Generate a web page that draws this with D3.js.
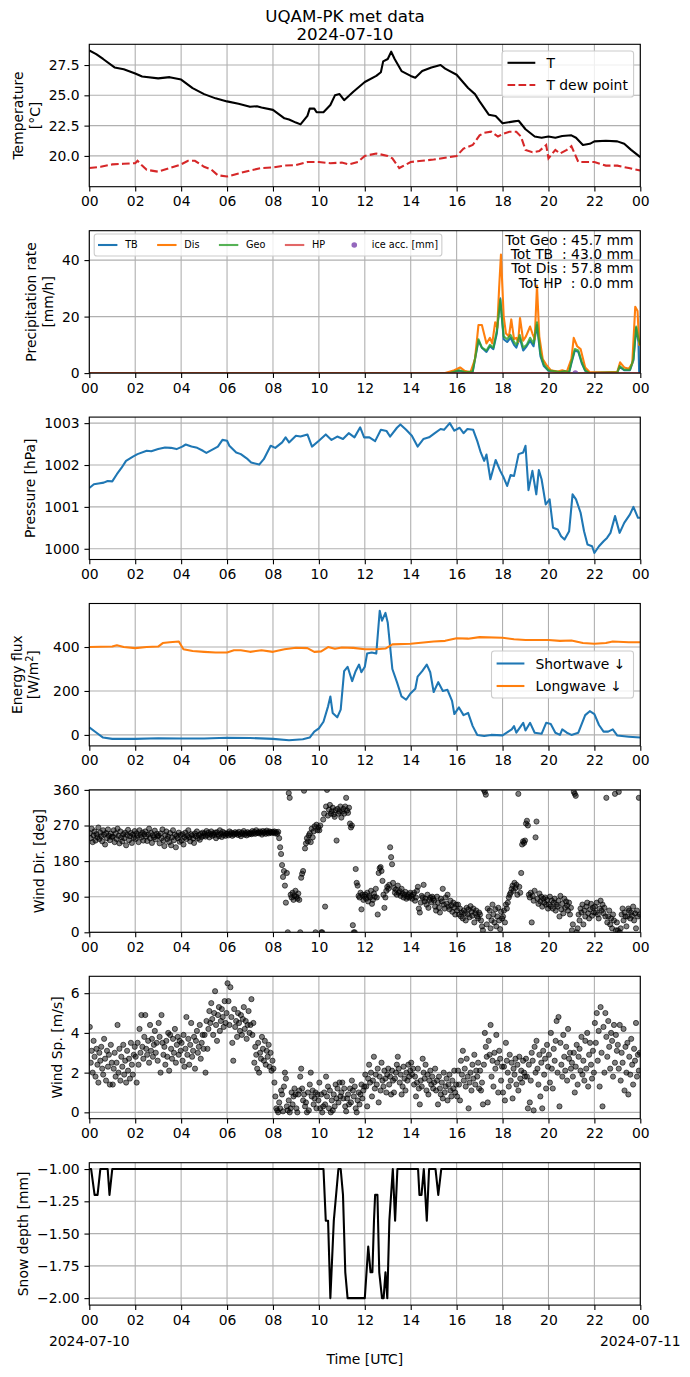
<!DOCTYPE html>
<html>
<head>
<meta charset="utf-8">
<script src="https://cdn.jsdelivr.net/npm/d3@7"></script>
<style>
  body { margin: 0; background: #fff; }
  svg { display: block; font-family: "DejaVu Sans", sans-serif; }
</style>
</head>
<body>
<svg id="fig"></svg>
<script>
// ---- data ----
const xTicks = [0, 2, 4, 6, 8, 10, 12, 14, 16, 18, 20, 22, 24];
const xTickLabels = ["00", "02", "04", "06", "08", "10", "12", "14", "16", "18", "20", "22", "00"];

// [hour, degC]
const tempAir = [[0,28.7],[0.3,28.4],[0.6,28.0],[1.1,27.3],[1.5,27.15],[2,26.8],[2.3,26.55],[3,26.4],[3.5,26.5],[4,26.3],
  [4.5,25.6],[5,25.1],[5.5,24.75],[6,24.5],[6.5,24.3],[7,24.05],[7.3,24.1],[7.5,24.0],[8,23.8],[8.5,23.1],[8.7,23.0],
  [9,22.75],[9.2,22.6],[9.5,23.3],[9.6,23.9],[9.8,23.9],[9.9,23.6],[10.2,23.6],[10.5,24.2],[10.7,25.0],[10.9,25.1],
  [11.1,24.6],[11.5,25.3],[12,26.1],[12.5,26.6],[12.7,26.9],[12.8,27.8],[13.0,28.0],[13.15,28.6],[13.3,28.0],[13.6,27.0],
  [14,26.6],[14.2,26.45],[14.5,27.0],[14.9,27.3],[15.1,27.4],[15.3,27.5],[15.5,27.2],[16,26.7],[16.5,25.6],[16.8,25.1],
  [17,24.5],[17.4,23.4],[17.7,23.3],[18,22.7],[18.5,22.85],[18.7,22.9],[19,22.2],[19.4,21.6],[19.7,21.5],[20,21.6],
  [20.3,21.5],[20.6,21.65],[21,21.7],[21.2,21.5],[21.5,20.9],[21.8,21.0],[22,21.2],[22.5,21.25],[23,21.2],[23.3,21.0],
  [23.6,20.5],[24,19.9]];
const tempDew = [[0,19.0],[0.5,19.1],[1,19.3],[1.5,19.35],[2,19.4],[2.1,19.6],[2.3,19.2],[2.5,18.85],[3,18.7],[3.5,19.0],
  [4,19.3],[4.3,19.6],[4.6,19.6],[5,19.1],[5.3,18.9],[5.6,18.4],[6,18.3],[6.5,18.55],[7,18.8],[7.5,19.0],[8,19.05],
  [8.5,19.2],[9,19.25],[9.5,19.5],[10,19.5],[10.5,19.4],[11,19.45],[11.3,19.3],[11.7,19.5],[12,20.0],[12.5,20.2],
  [13,20.0],[13.2,19.8],[13.5,19.0],[14,19.5],[14.5,19.6],[15,19.7],[15.5,19.85],[16,20.0],[16.3,20.6],[16.7,20.9],
  [17,21.7],[17.2,21.9],[17.5,22.0],[17.8,21.6],[18,21.8],[18.3,22.0],[18.6,22.0],[18.8,21.6],[19,20.5],[19.3,20.3],
  [19.6,20.4],[19.9,20.9],[20,19.8],[20.3,20.5],[20.5,20.2],[20.8,20.5],[21,20.8],[21.3,19.5],[21.6,19.5],[22,19.5],
  [22.5,19.2],[23,19.2],[23.5,19.0],[24,18.8]];

// [hour, mm/h]
const precipTB = [[0,0],[15.7,0],[16.1,0.8],[16.4,0.2],[16.7,0.5],[16.95,11.5],[17.1,9],[17.3,7.5],[17.45,9.5],[17.6,8.5],
  [17.75,14],[17.9,26.5],[18.05,12],[18.2,11],[18.35,12.5],[18.5,10],[18.6,9],[18.75,12.5],[18.9,8],[19.05,9.5],
  [19.2,11.5],[19.35,9.5],[19.5,17],[19.65,6],[19.8,2.5],[20.0,0.8],[20.5,0.3],[20.7,0.6],[20.9,0.3],[21.0,3.5],
  [21.15,8],[21.3,7.5],[21.45,3.5],[21.6,0.8],[21.8,0],[23.0,0.3],[23.1,2.2],[23.3,1],[23.55,1],[23.7,4.5],
  [23.82,16],[23.92,11],[23.95,0],[24,0]];
const precipDis = [[0,0],[15.5,0],[15.9,1.0],[16.15,2.0],[16.35,0.8],[16.6,0.3],[16.8,5],[16.95,17],[17.1,17],[17.3,10.5],
  [17.45,12.5],[17.55,10.5],[17.68,18],[17.77,16],[17.85,30],[17.93,42],[18.05,20],[18.15,14],[18.28,13],[18.38,19],
  [18.5,12],[18.6,12.5],[18.68,11],[18.76,19.5],[18.9,11.5],[19.02,13],[19.2,16.5],[19.3,14],[19.4,12],[19.5,31],
  [19.6,13],[19.75,5],[19.9,3],[20.1,1],[20.4,0.6],[20.6,1.0],[20.8,0.5],[21.0,5],[21.1,12.5],[21.25,9.5],[21.4,8.5],
  [21.6,2],[21.8,0.3],[22.5,0.3],[23.0,0.5],[23.12,3.8],[23.3,2],[23.5,1.5],[23.65,3.5],[23.78,23.5],[23.88,22],
  [23.95,10],[24,10]];
const precipGeo = [[0,0],[15.7,0],[16.1,1.0],[16.4,0.3],[16.7,0.6],[16.95,12],[17.1,9],[17.3,8],[17.45,10],[17.6,9],
  [17.75,15],[17.9,26],[18.05,13],[18.2,12],[18.35,13.5],[18.5,11],[18.6,10],[18.75,13.5],[18.9,9],[19.05,10],
  [19.2,12.5],[19.35,10.5],[19.5,18],[19.65,7],[19.8,3],[20.0,1],[20.5,0.4],[20.7,0.7],[20.9,0.4],[21.0,4],
  [21.15,8.5],[21.3,8],[21.45,4],[21.6,1],[21.8,0],[23.0,0.3],[23.1,2.5],[23.3,1.2],[23.55,1.2],[23.7,5],
  [23.82,16.5],[23.92,12],[24,10]];
const precipHP = [[0,0],[24,0]];
const iceAcc = [[21.17,0]];
const precipTotals = ["Tot Geo : 45.7 mm", "Tot TB  : 43.0 mm", "Tot Dis : 57.8 mm", "Tot HP  : 0.0 mm"];

// [hour, hPa]
const pressure = [[0,1001.45],[0.2,1001.54],[0.4,1001.56],[0.63,1001.58],[0.8,1001.62],[1.0,1001.61],[1.2,1001.78],
  [1.4,1001.93],[1.6,1002.1],[1.9,1002.2],[2.1,1002.26],[2.5,1002.34],[2.7,1002.33],[3.0,1002.38],[3.3,1002.42],
  [3.55,1002.41],[3.8,1002.38],[4.05,1002.44],[4.2,1002.49],[4.45,1002.44],[4.7,1002.41],[4.95,1002.34],[5.1,1002.29],
  [5.4,1002.38],[5.6,1002.44],[5.8,1002.6],[6.0,1002.58],[6.1,1002.46],[6.4,1002.3],[6.6,1002.26],[6.9,1002.14],
  [7.05,1002.06],[7.4,1002.01],[7.6,1002.14],[7.9,1002.46],[8.1,1002.41],[8.4,1002.54],[8.55,1002.66],[8.7,1002.54],
  [9.0,1002.7],[9.2,1002.68],[9.5,1002.73],[9.7,1002.44],[10.0,1002.58],[10.3,1002.73],[10.55,1002.6],[10.8,1002.68],
  [11.05,1002.62],[11.3,1002.76],[11.55,1002.66],[11.8,1002.9],[11.97,1002.66],[12.2,1002.66],[12.45,1002.57],
  [12.7,1002.84],[12.95,1002.81],[13.1,1002.68],[13.4,1002.89],[13.55,1002.97],[13.8,1002.84],[14.05,1002.7],
  [14.3,1002.44],[14.55,1002.62],[14.8,1002.66],[15.05,1002.76],[15.3,1002.86],[15.45,1002.84],[15.7,1003.0],
  [15.9,1002.82],[16.13,1002.89],[16.3,1002.76],[16.47,1002.86],[16.72,1002.84],[16.9,1002.57],[17.05,1002.3],
  [17.2,1002.1],[17.3,1002.25],[17.47,1001.66],[17.7,1002.12],[17.9,1001.86],[18.05,1001.7],[18.2,1001.5],
  [18.35,1001.76],[18.5,1001.74],[18.7,1002.26],[18.9,1002.3],[19.0,1002.46],[19.13,1001.4],[19.3,1001.86],
  [19.47,1001.3],[19.58,1001.88],[19.7,1001.66],[19.88,1001.06],[20.05,1001.18],[20.2,1000.5],[20.4,1000.46],
  [20.55,1000.3],[20.7,1000.22],[20.9,1000.42],[21.05,1001.3],[21.2,1001.18],[21.4,1000.86],[21.55,1000.42],
  [21.7,1000.1],[21.9,1000.06],[22.0,999.9],[22.2,1000.06],[22.4,1000.18],[22.55,1000.26],[22.7,1000.38],
  [22.9,1000.78],[23.1,1000.38],[23.3,1000.62],[23.55,1000.82],[23.7,1001.0],[23.9,1000.74],[24,1000.74]];

// [hour, W/m2]
const shortwave = [[0,34],[0.3,11],[0.6,-12],[1,-18],[2,-18],[3,-15],[4,-16],[5,-16],[6,-13],[7,-14],[8,-18],[8.7,-24],
  [9.3,-20],[9.6,-12],[9.8,15],[10.0,30],[10.2,60],[10.4,130],[10.5,175],[10.6,100],[10.8,80],[10.95,115],[11.1,290],
  [11.25,310],[11.45,245],[11.6,290],[11.75,320],[11.85,285],[12.0,310],[12.1,370],[12.3,375],[12.5,370],[12.65,565],
  [12.75,520],[12.9,555],[13.0,510],[13.2,300],[13.4,240],[13.6,175],[13.8,160],[14.0,190],[14.2,210],[14.3,265],
  [14.5,290],[14.7,320],[14.85,285],[15.0,195],[15.2,240],[15.4,200],[15.6,205],[15.8,155],[15.9,95],[16.1,125],
  [16.3,90],[16.5,100],[16.7,40],[16.9,0],[17.2,-5],[17.5,0],[18.0,-2],[18.4,25],[18.5,40],[18.6,10],[18.9,55],
  [19.0,20],[19.2,55],[19.4,10],[19.7,5],[19.9,55],[20.1,50],[20.3,10],[20.5,0],[20.6,25],[20.8,10],[21.0,0],
  [21.3,10],[21.6,90],[21.8,108],[22.0,95],[22.2,45],[22.4,15],[22.6,15],[22.8,25],[23.0,-3],[23.5,-8],[24.0,-12]];
const longwave = [[0,400],[1,402],[1.2,408],[1.5,400],[2,395],[2.5,400],[3,402],[3.2,418],[3.5,422],[3.9,425],[4.1,390],
  [4.5,382],[5,378],[5.5,375],[6,375],[6.3,385],[6.6,385],[7,378],[7.5,385],[8,378],[8.5,390],[9,397],[9.5,395],
  [9.8,378],[10.1,380],[10.4,400],[10.7,392],[11,398],[11.5,396],[12,390],[12.5,390],[12.9,393],[13.2,412],[14,415],
  [15,425],[15.5,428],[16,440],[16.5,438],[17,445],[18,442],[18.5,435],[19,432],[20,432],[20.5,428],[21,430],
  [21.5,418],[22,415],[22.5,418],[22.8,425],[23.5,422],[24,422]];

// wind direction [deg], 24 samples per hour (one row per hour)
const windDir = [
  [250,238,262,228,245,255,232,248,240,265,236,252,243,230,258,247,222,251,238,260,244,233,249,241],
  [242,258,228,250,236,262,244,225,255,240,230,248,238,252,220,246,259,233,243,251,226,247,239,256],
  [236,250,244,228,258,246,240,252,232,248,255,242,231,247,262,238,251,226,245,240,257,235,249,243],
  [245,225,250,238,260,232,218,246,255,236,242,228,251,220,240,258,233,247,215,244,238,252,229,246],
  [232,248,222,240,252,236,244,258,240,230,248,245,237,226,250,243,255,238,246,234,249,241,252,244],
  [250,242,256,246,252,240,248,255,244,250,246,252,238,253,247,243,258,249,241,254,246,251,244,249],
  [250,245,255,248,252,244,250,247,253,249,251,246,254,248,243,252,249,256,247,251,245,253,250,248],
  [252,248,256,250,254,249,258,251,253,250,255,252,247,256,251,254,249,257,252,250,255,253,251,254],
  [252,255,250,253,249,254,238,215,198,170,140,155,118,75,150,0,352,340,95,88,100,82,92,105],
  [90,85,98,82,0,138,148,155,358,212,225,238,230,245,250,228,262,240,255,268,0,272,258,265],
  [258,270,0,0,285,300,65,318,360,295,310,322,300,306,315,298,292,309,232,312,300,305,318,290],
  [305,312,300,318,340,308,302,315,275,265,270,18,0,0,160,125,118,92,88,100,58,95,82,90],
  [95,85,100,78,92,88,105,72,82,98,90,110,88,45,150,162,165,155,130,95,62,88,105,115],
  [110,120,215,190,172,125,112,100,108,95,118,100,104,92,110,98,88,95,102,85,90,96,88,100],
  [92,85,95,100,80,88,105,115,60,50,75,92,88,120,78,85,70,95,62,82,88,76,90,85],
  [80,65,55,90,75,62,50,85,78,110,70,60,88,72,95,65,58,80,68,52,75,62,45,70],
  [55,70,45,60,40,50,35,55,48,30,62,45,58,38,66,52,42,60,25,48,55,40,35,50],
  [45,30,15,5,360,355,348,20,60,40,55,10,30,70,45,25,58,15,40,62,30,8,52,35],
  [40,55,25,70,60,75,88,95,100,110,118,105,125,112,120,95,350,115,100,150,222,230,226,232],
  [275,282,270,95,88,100,25,92,80,105,240,280,85,72,98,78,90,65,85,75,88,70,82,60],
  [70,90,65,80,60,75,85,55,70,65,80,40,92,58,72,48,85,62,78,68,55,75,45,62],
  [5,20,355,350,345,0,10,45,30,60,50,70,20,55,40,65,75,48,35,58,72,42,62,50],
  [65,50,75,45,35,60,80,55,70,48,62,40,340,25,40,55,20,35,10,45,30,350,5,25],
  [5,355,0,10,45,60,30,50,40,15,40,60,55,35,50,42,65,30,48,10,55,40,340,45]
];

// wind speed [m/s], 24 samples per hour
const windSpeed = [
  [4.3,2.5,3.1,2.0,3.6,2.8,1.8,3.2,2.4,1.5,3.0,2.6,3.3,2.2,1.9,3.7,2.7,1.6,3.1,2.3,2.9,1.4,3.4,2.5],
  [1.4,2.2,3.0,1.8,2.5,4.4,2.0,3.2,1.6,2.8,2.3,3.4,1.9,2.6,1.5,3.1,2.1,2.7,1.7,3.5,2.4,1.9,2.9,3.3],
  [2.8,1.5,3.5,2.4,4.2,3.0,4.9,3.3,2.7,3.8,4.9,3.2,2.9,3.6,2.5,4.4,3.1,3.7,2.8,3.4,4.1,3.0,3.5,2.6],
  [4.5,3.8,2.0,4.9,3.5,2.9,3.3,2.4,3.6,2.8,4.0,2.1,3.9,3.2,2.7,3.7,3.0,4.2,2.5,3.4,3.8,2.9,3.6,3.1],
  [3.5,2.6,3.9,2.3,3.2,4.8,2.9,3.7,2.4,3.4,4.5,2.8,3.1,3.8,2.2,3.6,4.1,3.0,3.3,4.4,2.7,3.5,3.9,3.2],
  [3.9,2.0,4.6,3.2,4.2,5.1,4.5,5.5,4.7,3.9,5.0,6.1,4.4,3.6,4.9,5.3,4.1,4.6,5.2,4.8,4.3,5.6,4.5,5.0],
  [6.5,5.6,4.4,6.3,4.8,3.5,2.6,5.2,4.3,4.6,3.8,5.0,4.5,4.1,4.9,3.9,4.7,5.3,4.2,4.6,3.7,4.4,5.1,4.0],
  [4.4,5.7,3.9,4.5,2.5,3.3,2.9,2.2,3.5,2.0,3.0,2.7,3.8,3.2,2.6,3.6,2.4,3.1,2.8,3.4,2.3,3.0,2.1,2.6],
  [2.2,1.5,0.8,0.2,0.1,0.0,0.5,0.2,1.1,0.9,0.05,1.3,2.0,1.7,0.3,0.1,0.6,0.0,0.2,1.0,0.4,0.8,1.2,0.9],
  [0.2,0.0,0.9,1.1,1.8,2.2,1.2,0.6,0.9,0.3,0.5,0.0,1.0,0.1,1.4,2.0,0.8,1.1,0.4,0.7,1.0,0.2,0.9,0.6],
  [1.5,0.2,0.9,0.0,0.3,1.0,0.4,1.8,0.8,1.3,0.2,1.1,0.0,0.6,0.1,0.9,0.3,1.4,0.7,1.2,0.5,1.5,0.8,1.0],
  [1.5,0.7,1.2,0.3,0.05,0.7,0.9,0.4,1.2,0.5,1.6,1.1,0.8,1.3,0.2,0.0,0.6,1.0,0.4,0.9,1.4,0.7,1.1,1.3],
  [1.9,1.3,0.3,1.7,2.4,1.5,2.0,0.8,1.6,2.8,1.2,1.9,1.4,2.2,0.5,1.8,1.1,2.5,1.6,1.3,2.1,1.7,1.0,1.9],
  [2.2,1.4,1.8,0.9,2.1,1.6,1.0,1.7,2.0,2.4,2.8,2.2,1.5,1.9,0.9,1.3,2.3,1.7,1.1,2.0,1.6,2.4,1.8,2.1],
  [2.5,1.9,2.2,1.4,1.8,0.8,1.5,2.2,1.2,0.4,1.6,1.3,2.7,2.0,1.7,2.4,1.1,1.9,0.9,1.6,2.1,1.4,1.8,1.2],
  [1.5,2.2,1.1,1.6,0.4,1.8,1.2,0.9,1.5,0.7,2.0,1.0,1.3,1.7,0.6,1.4,1.9,1.1,0.8,1.6,1.2,2.1,1.0,1.4],
  [0.8,2.1,1.4,0.6,2.6,1.9,3.1,1.6,2.2,1.3,2.7,1.8,0.2,1.5,2.0,1.1,2.4,1.7,2.9,1.4,2.1,1.8,2.5,1.2],
  [2.1,1.1,1.5,0.4,2.4,4.0,3.3,2.8,0.5,3.6,2.9,4.4,1.8,2.6,1.3,3.0,2.2,3.9,2.5,1.0,3.1,2.7,1.6,2.3],
  [1.0,2.3,0.6,3.5,2.6,2.0,1.3,2.9,1.6,2.5,0.7,2.2,1.9,2.7,1.4,2.4,1.1,2.8,1.7,2.1,1.5,2.6,2.0,1.8],
  [2.7,1.8,0.2,2.4,0.5,1.6,3.0,2.6,0.1,3.3,2.0,3.6,2.2,1.4,2.9,0.8,2.5,0.2,3.1,1.9,2.7,1.2,3.4,2.3],
  [2.9,1.5,4.0,2.2,1.2,3.2,2.6,3.6,4.6,2.0,4.8,0.3,3.5,2.4,1.8,3.9,2.8,2.1,3.3,1.6,4.2,2.7,3.0,2.2],
  [2.5,1.8,3.0,1.0,2.3,3.4,1.4,2.8,3.2,2.1,3.8,1.9,2.6,1.6,3.6,2.2,4.0,1.3,2.9,3.5,2.4,1.7,3.1,2.0],
  [4.5,3.5,5.0,2.6,4.1,1.3,5.3,3.0,0.3,4.3,2.0,5.0,3.8,2.8,4.6,3.3,2.2,4.0,3.6,1.8,4.4,2.5,3.9,3.1],
  [3.4,2.2,4.4,1.6,3.0,2.5,4.2,1.1,3.3,2.0,3.5,0.9,2.8,1.9,3.7,2.4,1.4,3.2,2.6,4.5,1.8,2.9,2.1,3.0]
];

// [hour, mm]
const snowDepth = [[0,-1.0],[0.08,-1.0],[0.23,-1.2],[0.36,-1.2],[0.48,-1.0],[0.8,-1.0],[0.88,-1.2],[1.0,-1.0],
  [10.2,-1.0],[10.3,-1.4],[10.4,-1.4],[10.5,-2.0],[10.65,-1.4],[10.85,-1.0],[10.95,-1.0],[11.05,-1.2],[11.15,-1.8],
  [11.25,-2.0],[12.0,-2.0],[12.15,-1.6],[12.25,-1.8],[12.33,-1.8],[12.4,-1.4],[12.45,-1.2],[12.55,-1.2],[12.63,-1.8],
  [12.75,-2.0],[12.82,-2.0],[12.9,-1.8],[12.98,-2.0],[13.07,-1.4],[13.22,-1.0],[13.32,-1.4],[13.42,-1.0],[14.32,-1.0],
  [14.38,-1.2],[14.47,-1.2],[14.57,-1.0],[14.7,-1.4],[14.8,-1.0],[15.08,-1.0],[15.2,-1.2],[15.33,-1.0],[24,-1.0]];

// ---- layout ----
const W = 690, H = 1377;
const X0 = 89.3, X1 = 640.3;
const PANEL_TOP = 44.3, PANEL_STEP = 186.4, PH = 142.4;
const FS = 13.9, TICK = 4.86, PAD = 4.86, LPAD = 5.56;
const GRID = "#b0b0b0";

const svg = d3.select("#fig").attr("width", W).attr("height", H);
svg.append("rect").attr("width", W).attr("height", H).attr("fill", "#fff");

const x = d3.scaleLinear().domain([0, 24]).range([X0, X1]);

const line = y => d3.line().x(d => x(d[0])).y(d => y(d[1]));

const makePanel = (i, domain, ticks, fmt, label, labelShift = 0) => {
    const top = PANEL_TOP + i * PANEL_STEP;
    const y = d3.scaleLinear().domain(domain).range([top + PH, top]);
    const id = "clip" + i;
    svg.append("clipPath").attr("id", id)
        .append("rect").attr("x", X0).attr("y", top).attr("width", X1 - X0).attr("height", PH);

    const grid = svg.append("g").attr("stroke", GRID).attr("stroke-width", 1.1);
    grid.selectAll(".vx").data(xTicks).join("line")
        .attr("x1", d => x(d)).attr("x2", d => x(d)).attr("y1", top).attr("y2", top + PH);
    grid.selectAll(".hy").data(ticks).join("line")
        .attr("x1", X0).attr("x2", X1).attr("y1", d => y(d)).attr("y2", d => y(d));

    const plot = svg.append("g").attr("clip-path", `url(#${id})`);
    const frame = svg.append("g");

    const xa = frame.append("g")
        .attr("transform", `translate(0,${top + PH})`)
        .call(d3.axisBottom(x).tickValues(xTicks).tickFormat((d, k) => xTickLabels[k])
            .tickSize(TICK).tickPadding(PAD).tickSizeOuter(0));
    xa.attr("font-size", FS).attr("font-family", "DejaVu Sans");
    xa.select(".domain").remove();
    xa.selectAll("line").attr("stroke-width", 1.1);

    const ya = frame.append("g")
        .attr("transform", `translate(${X0},0)`)
        .call(d3.axisLeft(y).tickValues(ticks).tickFormat(fmt)
            .tickSize(TICK).tickPadding(PAD).tickSizeOuter(0));
    ya.attr("font-size", FS).attr("font-family", "DejaVu Sans");
    ya.select(".domain").remove();
    ya.selectAll("line").attr("stroke-width", 1.1);

    frame.append("rect")
        .attr("x", X0).attr("y", top).attr("width", X1 - X0).attr("height", PH)
        .attr("fill", "none").attr("stroke", "#000").attr("stroke-width", 1.1);

    let maxW = 0;
    ya.selectAll("text").each(function () { maxW = Math.max(maxW, this.getComputedTextLength()); });
    const base = X0 - TICK - PAD - maxW - LPAD - 0.236 * FS + labelShift;
    label.forEach((txt, k) => {
        const bx = base - (label.length - 1 - k) * 1.2 * FS;
        const t = frame.append("text")
            .attr("transform", `translate(${bx},${top + PH / 2}) rotate(-90)`)
            .attr("text-anchor", "middle").attr("font-size", FS);
        if (txt.includes("^2")) {
            const [a, b] = txt.split("^2");
            t.append("tspan").text(a);
            t.append("tspan").attr("font-size", FS * 0.7).attr("dy", -5.5).text("2");
            t.append("tspan").attr("dy", 5.5).text(b);
        } else {
            t.text(txt);
        }
    });
    return { plot, frame, y, top };
};

const legend = (parent, box, fontSize, rows) => {
    parent.append("rect")
        .attr("x", box.x).attr("y", box.y).attr("width", box.w).attr("height", box.h)
        .attr("rx", 2.8).attr("fill", "#fff").attr("fill-opacity", 0.8)
        .attr("stroke", "#cccccc").attr("stroke-width", 1.1);
    rows.forEach(r => {
        if (r.dot) {
            parent.append("circle").attr("cx", r.hx + r.hl / 2).attr("cy", r.y).attr("r", 2.8)
                .attr("fill", r.color).attr("opacity", r.opacity || 1);
        } else {
            parent.append("line").attr("x1", r.hx).attr("x2", r.hx + r.hl).attr("y1", r.y).attr("y2", r.y)
                .attr("stroke", r.color).attr("stroke-width", 2.08)
                .attr("stroke-dasharray", r.dash || null).attr("opacity", r.opacity || 1);
        }
        parent.append("text").attr("x", r.tx).attr("y", r.y).attr("dy", "0.36em")
            .attr("font-size", fontSize).text(r.label);
    });
};

// title
svg.append("text").attr("x", W / 2).attr("y", 16).attr("dy", "0.36em").attr("text-anchor", "middle")
    .attr("font-size", 16.7).text("UQAM-PK met data");
svg.append("text").attr("x", W / 2).attr("y", 33.5).attr("dy", "0.36em").attr("text-anchor", "middle")
    .attr("font-size", 16.7).text("2024-07-10");

// 1: temperature
const p1 = makePanel(0, [17.46, 29.21], [20, 22.5, 25, 27.5], d3.format(".1f"), ["Temperature", "[°C]"]);
p1.plot.append("path").attr("d", line(p1.y)(tempAir))
    .attr("fill", "none").attr("stroke", "#000").attr("stroke-width", 2.08).attr("stroke-linejoin", "round");
p1.plot.append("path").attr("d", line(p1.y)(tempDew))
    .attr("fill", "none").attr("stroke", "#d62728").attr("stroke-width", 2.08).attr("stroke-dasharray", "7.7,3.3");
legend(p1.frame, { x: 502, y: 51, w: 131.6, h: 46 }, FS, [
    { label: "T", color: "#000", hx: 507.5, hl: 27.8, tx: 546.4, y: 62.8 },
    { label: "T dew point", color: "#d62728", dash: "7.7,3.3", hx: 507.5, hl: 27.8, tx: 546.4, y: 85 }
]);

// 2: precipitation
const p2 = makePanel(1, [0, 50.4], [0, 20, 40], d3.format("d"), ["Precipitation rate", "[mm/h]"]);
const precipSeries = [
    { data: precipTB, color: "#1f77b4", opacity: 1, label: "TB" },
    { data: precipDis, color: "#ff7f0e", opacity: 1, label: "Dis" },
    { data: precipGeo, color: "#2ca02c", opacity: 0.8, label: "Geo" },
    { data: precipHP, color: "#d62728", opacity: 0.7, label: "HP" }
];
precipSeries.forEach(s => {
    p2.plot.append("path").attr("d", line(p2.y)(s.data))
        .attr("fill", "none").attr("stroke", s.color).attr("stroke-width", 2.08)
        .attr("stroke-opacity", s.opacity).attr("stroke-linejoin", "round");
});
p2.plot.selectAll(".ice").data(iceAcc).join("circle")
    .attr("cx", d => x(d[0])).attr("cy", d => p2.y(d[1])).attr("r", 2.8).attr("fill", "#9467bd");
{
    const fs2 = 9.7, rows = [];
    let hx = 98;
    const entries = precipSeries.map(s => ({ label: s.label, color: s.color, opacity: s.opacity }))
        .concat([{ label: "ice acc. [mm]", color: "#9467bd", dot: true }]);
    const probe = svg.append("text").attr("font-size", fs2);
    entries.forEach(e => {
        probe.text(e.label);
        const tw = probe.node().getComputedTextLength();
        rows.push({ ...e, hx, hl: 2 * fs2, tx: hx + 2.8 * fs2, y: 245 });
        hx += 2.8 * fs2 + tw + 2 * fs2;
    });
    probe.remove();
    const boxW = hx - 2 * fs2 + 0.4 * fs2 - 94.2;
    legend(p2.frame, { x: 94.2, y: 234, w: boxW, h: 22 }, fs2, rows);
}
p2.frame.selectAll(".tot").data(precipTotals).join("text")
    .attr("x", 633.5).attr("y", (d, k) => 245 + k * 14.2)
    .attr("text-anchor", "end").attr("font-size", FS)
    .style("white-space", "pre").attr("xml:space", "preserve").text(d => d);

// 3: pressure
const p3 = makePanel(2, [999.744, 1003.144], [1000, 1001, 1002, 1003], d3.format("d"), ["Pressure [hPa]"]);
p3.plot.append("path").attr("d", line(p3.y)(pressure))
    .attr("fill", "none").attr("stroke", "#1f77b4").attr("stroke-width", 2.08).attr("stroke-linejoin", "round");

// 4: radiation
const p4 = makePanel(3, [-50, 598], [0, 200, 400], d3.format("d"), ["Energy flux", "[W/m^2]"], -6);
p4.plot.append("path").attr("d", line(p4.y)(shortwave))
    .attr("fill", "none").attr("stroke", "#1f77b4").attr("stroke-width", 2.08).attr("stroke-linejoin", "round");
p4.plot.append("path").attr("d", line(p4.y)(longwave))
    .attr("fill", "none").attr("stroke", "#ff7f0e").attr("stroke-width", 2.08).attr("stroke-linejoin", "round");
legend(p4.frame, { x: 491.5, y: 651, w: 142, h: 47 }, FS, [
    { label: "Shortwave \u2193", color: "#1f77b4", hx: 496.6, hl: 27.8, tx: 535.5, y: 663.5 },
    { label: "Longwave \u2193", color: "#ff7f0e", hx: 496.6, hl: 27.8, tx: 535.5, y: 686 }
]);

// scatter helper: one row per hour, samples spread evenly across the hour
const scatterPoints = rows => rows.flatMap((row, h) => row.map((v, k) => [h + (k + 0.5) / row.length, v]));

const drawScatter = (p, rows) => {
    p.plot.selectAll("circle").data(scatterPoints(rows)).join("circle")
        .attr("cx", d => x(d[0])).attr("cy", d => p.y(d[1])).attr("r", 2.6)
        .attr("fill", "#000").attr("fill-opacity", 0.5)
        .attr("stroke", "#000").attr("stroke-opacity", 0.6).attr("stroke-width", 1);
};

// 5: wind direction
const p5 = makePanel(4, [0, 360], [0, 90, 180, 270, 360], d3.format("d"), ["Wind Dir. [deg]"]);
drawScatter(p5, windDir);

// 6: wind speed
const p6 = makePanel(5, [-0.32, 6.85], [0, 2, 4, 6], d3.format("d"), ["Wind Sp. [m/s]"]);
drawScatter(p6, windSpeed);

// 7: snow depth
const fmtSnow = d => d3.format(".2f")(d).replace("-", "\u2212");
const p7 = makePanel(6, [-2.054, -0.951], [-2, -1.75, -1.5, -1.25, -1], fmtSnow, ["Snow depth [mm]"]);
p7.plot.append("path").attr("d", line(p7.y)(snowDepth))
    .attr("fill", "none").attr("stroke", "#000").attr("stroke-width", 2.08).attr("stroke-linejoin", "round");

const bottom = p7.top + PH;
p7.frame.append("text").attr("x", x(0)).attr("y", bottom + 35.5).attr("text-anchor", "middle")
    .attr("font-size", FS).attr("dy", "0.36em").text("2024-07-10");
p7.frame.append("text").attr("x", x(24)).attr("y", bottom + 35.5).attr("text-anchor", "middle")
    .attr("font-size", FS).attr("dy", "0.36em").text("2024-07-11");
p7.frame.append("text").attr("x", (X0 + X1) / 2).attr("y", bottom + 54).attr("text-anchor", "middle")
    .attr("font-size", FS).attr("dy", "0.36em").text("Time [UTC]");
</script>
</body>
</html>
